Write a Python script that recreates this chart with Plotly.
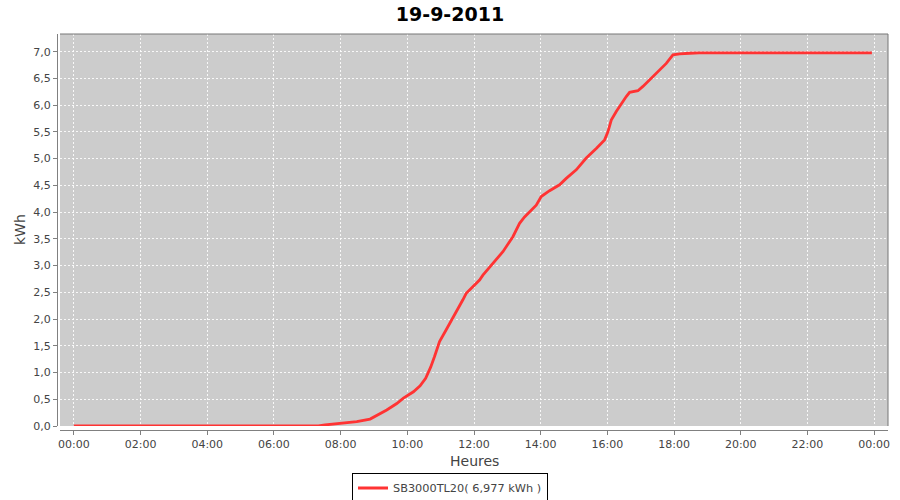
import plotly.graph_objects as go

# ---- data ----
day = "2011-09-19"
times = ["00:00", "07:20", "07:32", "08:00", "08:29", "08:53", "09:08", "09:23", "09:41",
         "09:53", "10:11", "10:23", "10:33", "10:42", "10:49", "10:58", "11:10", "11:20",
         "11:31", "11:40", "11:46", "11:58", "12:10", "12:16", "12:34", "12:52", "13:10",
         "13:22", "13:31", "13:40", "13:52", "14:01", "14:16", "14:34", "14:46", "15:04",
         "15:22", "15:40", "15:55", "16:01", "16:07", "16:16", "16:25", "16:34", "16:40",
         "16:55", "17:04", "17:16", "17:31", "17:46", "17:58", "18:10", "18:28", "18:45",
         "23:56"]
kwh = [0.0, 0.0, 0.02, 0.05, 0.08, 0.13, 0.21, 0.30, 0.42,
       0.52, 0.64, 0.75, 0.89, 1.10, 1.30, 1.58, 1.80, 1.98,
       2.17, 2.36, 2.48, 2.60, 2.73, 2.82, 3.04, 3.26, 3.54,
       3.79, 3.91, 4.01, 4.13, 4.29, 4.40, 4.51, 4.63, 4.79,
       5.01, 5.19, 5.35, 5.50, 5.72, 5.88, 6.03, 6.16, 6.24,
       6.27, 6.35, 6.47, 6.63, 6.78, 6.94, 6.96, 6.97, 6.977,
       6.977]
series_name = "SB3000TL20( 6,977 kWh )"
title_text = "19-9-2011"
x_title = "Heures"
y_title = "kWh"

x_vals = [f"{day} {t}" for t in times]

FONT = "DejaVu Sans"
W, H = 900, 500
ML, MR, MT, MB = 57, 12, 34, 70
PW = W - ML - MR
PH = H - MT - MB

fig = go.Figure()
fig.add_trace(go.Scatter(
    x=x_vals, y=kwh, mode="lines", name=series_name,
    line=dict(color="#FF3333", width=2.8),
))

fig.update_layout(
    width=W, height=H,
    margin=dict(l=ML, r=MR, t=MT, b=MB, autoexpand=False),
    paper_bgcolor="white",
    plot_bgcolor="#CCCCCC",
    separators=", ",
    font=dict(family=FONT, size=11, color="#444444"),
    title=dict(text=title_text, x=0.5, xref="container", xanchor="center",
               y=1 - 14 / H, yref="container", yanchor="middle",
               font=dict(family=FONT, size=19, color="black", weight="bold")),
    showlegend=True,
    legend=dict(orientation="h", x=(450 - ML) / PW, xanchor="center",
                y=(430 - 488) / PH, yanchor="middle",
                bordercolor="black", borderwidth=1, bgcolor="white",
                font=dict(family=FONT, size=11.3, color="#444444"),
                itemwidth=30, tracegroupgap=0),
    xaxis=dict(
        type="date",
        domain=[3 / PW, 1],
        range=["2011-09-18 23:35", "2011-09-20 00:25"],
        tickformat="%H:%M", dtick=7200000, tick0=f"{day} 00:00",
        showgrid=True, gridcolor="rgba(255,255,255,0.85)", griddash="2px,2px", gridwidth=1,
        zeroline=False,
        ticks="outside", ticklen=4, tickcolor="#808080",
        showline=True, linecolor="#808080", linewidth=1,
        anchor="free", position=0,
        tickfont=dict(family=FONT, size=11, color="#444444"),
    ),
    yaxis=dict(
        domain=[4 / PH, 1],
        range=[0, 7.33],
        dtick=0.5, tick0=0, tickformat=".1f",
        showgrid=True, gridcolor="rgba(255,255,255,0.85)", griddash="2px,2px", gridwidth=1,
        zeroline=False,
        ticks="outside", ticklen=4, tickcolor="#808080",
        showline=True, linecolor="#808080", linewidth=1,
        anchor="free", position=0,
        tickfont=dict(family=FONT, size=11, color="#444444"),
    ),
)

# plot outline (top and right)
fig.add_shape(type="line", xref="x domain", yref="y domain", x0=0, x1=1, y0=1, y1=1,
              line=dict(color="#777777", width=1))
fig.add_shape(type="line", xref="x domain", yref="y domain", x0=1, x1=1, y0=0, y1=1,
              line=dict(color="#777777", width=1))

# axis titles
fig.add_annotation(text=x_title, xref="paper", yref="paper",
                   x=(474 - ML) / PW, y=(430 - 461) / PH, xanchor="center", yanchor="middle",
                   showarrow=False, font=dict(family=FONT, size=14, color="#444444"))
fig.add_annotation(text=y_title, xref="paper", yref="paper",
                   x=(20 - ML) / PW, y=(430 - 230) / PH, xanchor="center", yanchor="middle",
                   textangle=-90, showarrow=False,
                   font=dict(family=FONT, size=14, color="#444444"))

fig.write_html("out.html",
               config={"displayModeBar": False},
               post_script="document.body.style.margin='0';document.body.style.padding='0';"
                           "document.body.style.overflow='hidden';")
